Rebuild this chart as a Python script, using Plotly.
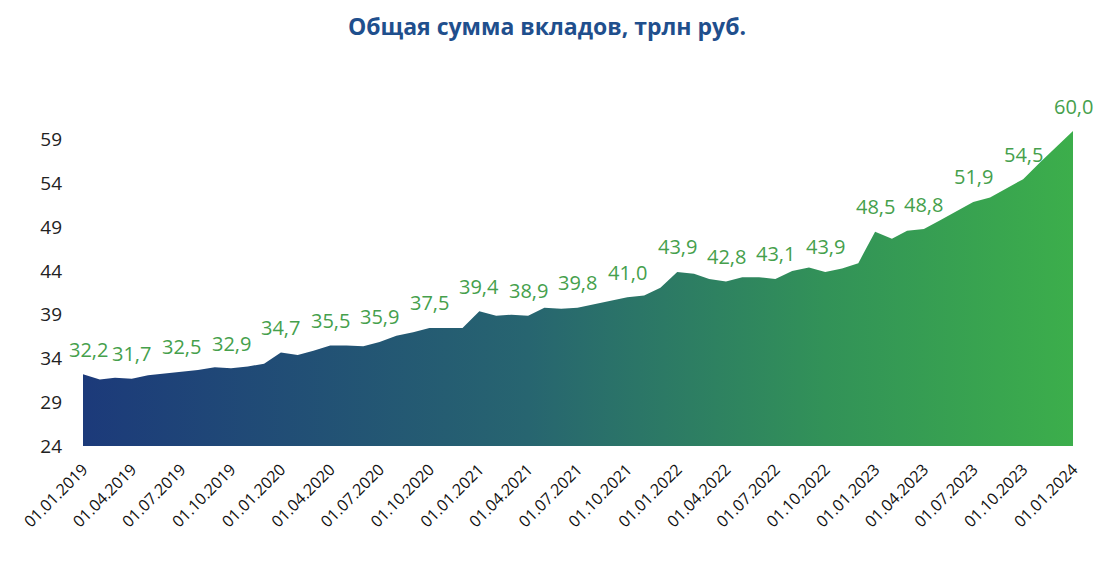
import pandas as pd
import plotly.graph_objects as go

# monthly dates 01.01.2019 .. 01.01.2024
dates = pd.date_range("2019-01-01", "2024-01-01", freq="MS")

# total deposits, trillion rub
deposits = [
    32.2, 31.6, 31.8, 31.7, 32.1, 32.3, 32.5, 32.7, 33.0, 32.9, 33.1, 33.4,
    34.7, 34.4, 34.9, 35.5, 35.5, 35.4, 35.9, 36.6, 37.0, 37.5, 37.5, 37.5,
    39.4, 38.9, 39.0, 38.9, 39.8, 39.7, 39.8, 40.2, 40.6, 41.0, 41.2, 42.1,
    43.9, 43.7, 43.1, 42.8, 43.3, 43.3, 43.1, 44.0, 44.4, 43.9, 44.3, 44.9,
    48.5, 47.7, 48.6, 48.8, 49.8, 50.9, 51.9, 52.4, 53.5, 54.5, 56.4, 58.2,
    60.0,
]

y_ticks = [24, 29, 34, 39, 44, 49, 54, 59]

fig = go.Figure()

fig.add_trace(go.Scatter(
    x=dates, y=deposits,
    mode="lines",
    line=dict(width=0),
    fill="tozeroy",
    fillgradient=dict(
        type="horizontal",
        colorscale=[[0, "#1c3a7a"], [0.45, "#276570"], [0.75, "#329258"], [1, "#3cae4b"]],
    ),
    hoverinfo="skip",
    showlegend=False,
))

# quarterly value labels
for i, (d, v) in enumerate(zip(dates[::3], deposits[::3])):
    fig.add_annotation(
        x=d, y=v,
        text=f"{v:.1f}".replace(".", ","),
        showarrow=False,
        yshift=25,
        xshift=5 if i == 0 else 0,
        font=dict(family="Open Sans", size=20, color="#45a04c"),
    )

# page body has an 8px margin, so the figure is a bit smaller than the window
fig.update_layout(
    width=1100, height=545,
    title=dict(
        text="<b>Общая сумма вкладов, трлн руб.</b>",
        x=0.49, xanchor="center", y=0.965, yanchor="middle",
        font=dict(family="Open Sans", size=23, color="#1f4f8d"),
    ),
    plot_bgcolor="white",
    paper_bgcolor="white",
    margin=dict(l=75, r=35, t=88, b=107),
    xaxis=dict(
        range=[dates[0], dates[-1]],
        tickvals=dates[::3],
        tickformat="%d.%m.%Y",
        tickangle=-45,
        automargin=False,
        showgrid=False, zeroline=False, showline=False,
        ticks="", ticklabelstandoff=10,
        tickfont=dict(family="Open Sans", size=16, color="#111111"),
    ),
    yaxis=dict(
        range=[24, 64],
        tickvals=y_ticks,
        automargin=False,
        showgrid=False, zeroline=False, showline=False,
        ticks="", ticklabelstandoff=20,
        tickfont=dict(family="Open Sans", size=19, color="#222222"),
    ),
)

fig.write_html("out.html")
